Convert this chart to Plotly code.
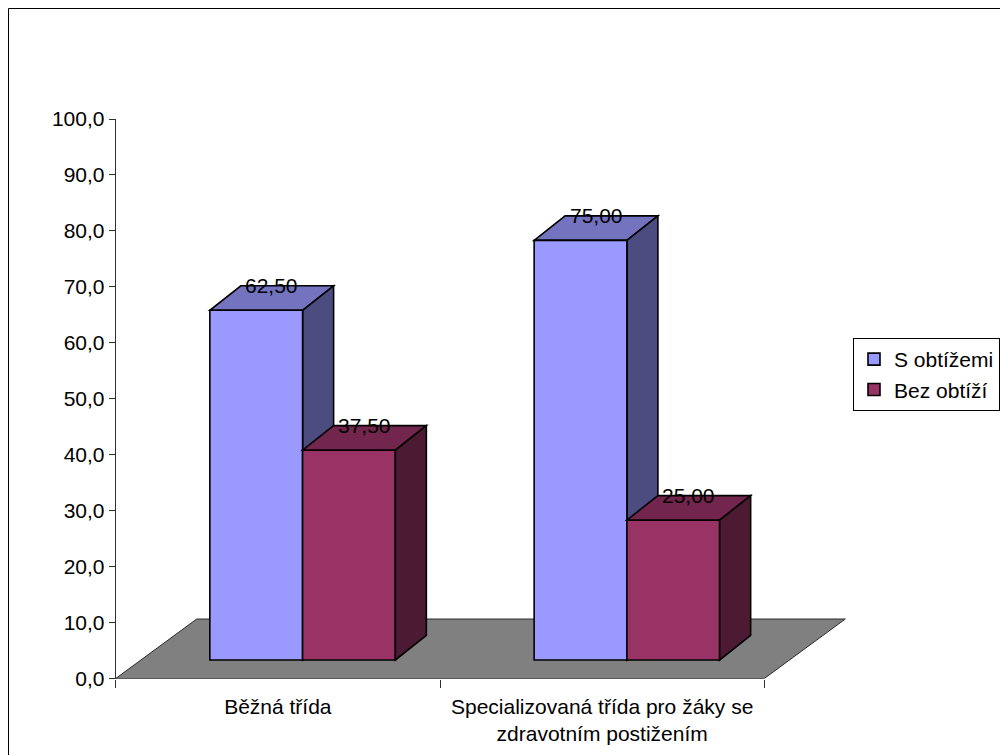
import plotly.graph_objects as go

# ---- data -------------------------------------------------------------
categories = [
    "Běžná třída",
    "Specializovaná třída pro žáky se<br>zdravotním postižením",
]
series_names = ["S obtížemi", "Bez obtíží"]
s_obtizemi = [62.5, 75.0]
bez_obtizi = [37.5, 25.0]
y_tick_values = [0, 10, 20, 30, 40, 50, 60, 70, 80, 90, 100]

series_values = [s_obtizemi, bez_obtizi]

# ---- styling / pseudo-3D geometry (axis units) -----------------------
front_colors = ["#9999FF", "#993366"]
top_colors = ["#7373BF", "#73264D"]
side_colors = ["#4C4C80", "#4D1A33"]
floor_color = "#808080"
edge_color = "#000000"
axis_color = "#303030"
FONT = "Liberation Sans, Arial, sans-serif"
FS = 21

BAR_W = 0.286          # width of one bar in category units
GROUP_DX = 0.0763      # horizontal shift of bar fronts into the floor
BASE = 3.31            # vertical lift of bar fronts into the floor
DEPTH_DX, DEPTH_DY = 0.0956, 4.38     # bar depth projection
FLOOR_DX, FLOOR_DY = 0.2498, 10.63    # floor depth projection
offsets = [GROUP_DX - BAR_W, GROUP_DX]

fig = go.Figure()

# Front faces of the columns
for j, (name, vals) in enumerate(zip(series_names, series_values)):
    fig.add_trace(go.Bar(
        x=categories,
        y=vals,
        base=BASE,
        width=BAR_W,
        offset=offsets[j],
        name=name,
        marker=dict(color=front_colors[j], line=dict(color=edge_color, width=1.6)),
        hoverinfo="skip",
    ))

shapes = []

# Floor of the 3D plot
n = len(categories)
fx0, fx1 = -0.5, n - 0.5
shapes.append(dict(
    type="path", xref="x", yref="y", layer="below",
    path=(f"M{fx0},0 L{fx1},0 L{fx1 + FLOOR_DX},{FLOOR_DY} "
          f"L{fx0 + FLOOR_DX},{FLOOR_DY} Z"),
    fillcolor=floor_color, line=dict(color="#2a2a2a", width=1),
))
# Category axis line along the front edge of the floor
shapes.append(dict(
    type="line", xref="x", yref="y", layer="below",
    x0=fx0, x1=fx1, y0=0, y1=0, line=dict(color=axis_color, width=1),
))

# Top and side faces of every column
annotations = []
for j, vals in enumerate(series_values):
    layer = "below" if j == 0 else "above"
    for i, v in enumerate(vals):
        x0 = i + offsets[j]
        x1 = x0 + BAR_W
        y0 = BASE
        y1 = BASE + v
        shapes.append(dict(
            type="path", xref="x", yref="y", layer=layer,
            path=(f"M{x0},{y1} L{x1},{y1} L{x1 + DEPTH_DX},{y1 + DEPTH_DY} "
                  f"L{x0 + DEPTH_DX},{y1 + DEPTH_DY} Z"),
            fillcolor=top_colors[j], line=dict(color=edge_color, width=1.6),
        ))
        shapes.append(dict(
            type="path", xref="x", yref="y", layer=layer,
            path=(f"M{x1},{y0} L{x1},{y1} L{x1 + DEPTH_DX},{y1 + DEPTH_DY} "
                  f"L{x1 + DEPTH_DX},{y0 + DEPTH_DY} Z"),
            fillcolor=side_colors[j], line=dict(color=edge_color, width=1.6),
        ))
        annotations.append(dict(
            x=x0 + BAR_W / 2 + DEPTH_DX / 2, y=y1 + DEPTH_DY,
            xref="x", yref="y", showarrow=False,
            text=f"{v:.2f}".replace(".", ","),
            font=dict(family=FONT, size=FS, color="#000000"),
            xanchor="center", yanchor="middle",
        ))

# Outer chart border
shapes.append(dict(
    type="rect", xref="paper", yref="paper", layer="above",
    x0=0.0085, x1=1.05, y0=-0.05, y1=1 - 8.5 / 755,
    line=dict(color="#000000", width=1), fillcolor="rgba(0,0,0,0)",
))

fig.update_layout(
    width=1000, height=755,
    margin=dict(l=0, r=0, t=0, b=0, autoexpand=False),
    paper_bgcolor="white", plot_bgcolor="white",
    separators=",.",
    barmode="overlay",
    showlegend=True,
    legend=dict(
        x=0.853, y=1 - 338 / 755, xanchor="left", yanchor="top",
        bgcolor="white", bordercolor="#000000", borderwidth=1,
        font=dict(family=FONT, size=FS, color="#000000"),
        traceorder="normal", itemwidth=30,
    ),
    font=dict(family=FONT, size=FS, color="#000000"),
    xaxis=dict(
        type="category",
        domain=[0.1157, 0.87],
        range=[-0.5, -0.5 + (870 - 115.7) / 324.3],
        showline=False, showgrid=False, zeroline=False,
        ticks="outside", tickson="boundaries", ticklen=8,
        tickcolor=axis_color, tickwidth=1,
        ticklabelstandoff=13,
        tickfont=dict(family=FONT, size=FS, color="#000000"),
        fixedrange=True,
    ),
    yaxis=dict(
        domain=[1 - 678.5 / 755, 1 - 119 / 755],
        range=[0, 100],
        tickvals=y_tick_values,
        tickformat=".1f",
        showline=True, linecolor=axis_color, linewidth=1,
        showgrid=False, zeroline=False,
        ticks="outside", ticklen=6, tickcolor=axis_color, tickwidth=1,
        tickfont=dict(family=FONT, size=FS, color="#000000"),
        fixedrange=True,
    ),
    shapes=shapes,
    annotations=annotations,
)

fig.write_html("out.html")
